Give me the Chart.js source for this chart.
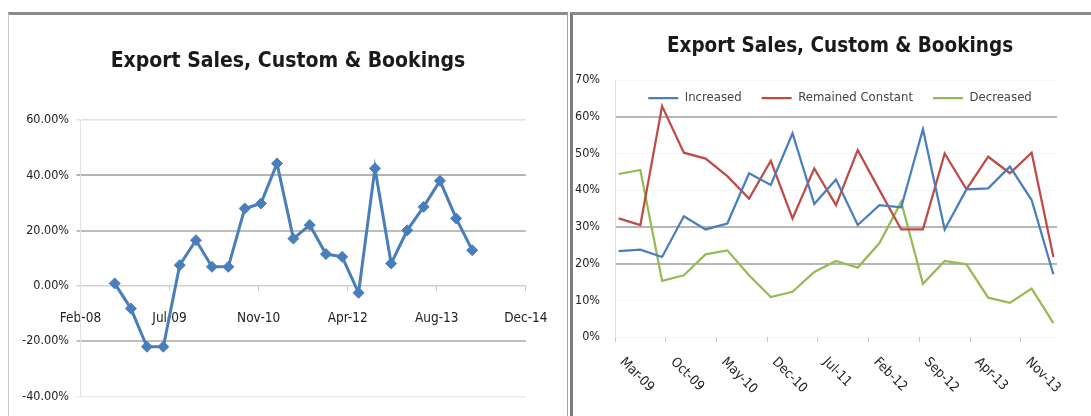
<!DOCTYPE html>
<html>
<head>
<meta charset="utf-8">
<script src="https://cdn.jsdelivr.net/npm/chart.js@4.4.1/dist/chart.umd.min.js"></script>
<style>
  html, body { margin: 0; padding: 0; background: #ffffff; width: 1091px; height: 416px; overflow: hidden; }
  .frame { position: absolute; box-sizing: border-box; }
  #frameL { left: 8px; top: 12px; width: 560px; height: 404px; border-top: 3px solid #8a8a8a; border-left: 1px solid #c8c8c8; border-right: 1px solid #a3a3a3; }
  #frameR { left: 570px; top: 12px; width: 521px; height: 404px; border-top: 3px solid #8a8a8a; border-left: 3px solid #7c7c7c; }
  canvas { position: absolute; }
  #chartL { left: 9px; top: 15px; }
  #chartR { left: 573px; top: 15px; }
</style>
</head>
<body>
<div class="frame" id="frameL"></div>
<div class="frame" id="frameR"></div>
<canvas id="chartL" width="558" height="401"></canvas>
<canvas id="chartR" width="518" height="401"></canvas>
<script>
// ---------- data ----------
const leftQuarters = ['Sep-08','Dec-08','Mar-09','Jun-09','Sep-09','Dec-09','Mar-10','Jun-10','Sep-10','Dec-10',
  'Mar-11','Jun-11','Sep-11','Dec-11','Mar-12','Jun-12','Sep-12','Dec-12','Mar-13','Jun-13','Sep-13','Dec-13','Mar-14'];
const netBalance = [0.9, -8.2, -22.0, -22.0, 7.5, 16.5, 6.9, 6.9, 28.0, 29.8, 44.3, 17.1, 22.0, 11.5, 10.5, -2.5,
  42.5, 8.1, 20.1, 28.6, 38.0, 24.4, 12.9];
const leftTickLabels = ['Feb-08','Jul-09','Nov-10','Apr-12','Aug-13','Dec-14'];

const rightQuarters = ['Mar-09','Jun-09','Sep-09','Dec-09','Mar-10','Jun-10','Sep-10','Dec-10','Mar-11','Jun-11',
  'Sep-11','Dec-11','Mar-12','Jun-12','Sep-12','Dec-12','Mar-13','Jun-13','Sep-13','Dec-13','Mar-14'];
const increased = [23.4, 23.8, 21.8, 32.9, 29.3, 30.9, 44.6, 41.4, 55.5, 36.2, 42.9, 30.5, 35.9, 35.3, 56.6, 29.3,
  40.2, 40.5, 46.4, 37.3, 17.1];
const remainedConstant = [32.3, 30.5, 62.9, 50.2, 48.6, 43.8, 37.7, 48.0, 32.3, 45.9, 35.9, 50.9, 40.0, 29.3, 29.3,
  50.0, 40.2, 49.1, 44.6, 50.2, 21.8];
const decreased = [44.4, 45.5, 15.3, 16.8, 22.5, 23.6, 16.8, 10.9, 12.3, 17.7, 20.7, 18.9, 25.6, 36.8, 14.5, 20.7,
  19.8, 10.7, 9.3, 13.2, 3.8];
const rightTickLabels = ['Mar-09','Oct-09','May-10','Dec-10','Jul-11','Feb-12','Sep-12','Apr-13','Nov-13'];

const chartTitle = 'Export Sales, Custom & Bookings';
const seriesNames = ['Increased', 'Remained Constant', 'Decreased'];

// ---------- helpers ----------
const MONTHS = ['Jan','Feb','Mar','Apr','May','Jun','Jul','Aug','Sep','Oct','Nov','Dec'];
function parseMonYY(s) { const [m, y] = s.split('-'); return { m: MONTHS.indexOf(m), y: 2000 + Number(y) }; }
// Excel-style date serial (days since 1899-12-30)
function excelSerial(s) { const d = parseMonYY(s); return (Date.UTC(d.y, d.m, 1) - Date.UTC(1899, 11, 30)) / 86400000; }
function monthNumber(s) { const d = parseMonYY(s); return d.y * 12 + d.m; }

const FONT = "'DejaVu Sans Condensed','Liberation Sans',sans-serif";
Chart.defaults.font.family = FONT;
Chart.defaults.color = '#222';
Chart.defaults.animation = false;

// ---------- left chart ----------
const LEFT_AXIS_START = 39500, LEFT_AXIS_STEP = 500;
const leftGridColors = { '60': '#e2e2e2', '40': '#b3b3b3', '20': '#bdbdbd', '0': '#d2d2d2', '-20': '#bdbdbd', '-40': '#ececec' };

new Chart(document.getElementById('chartL'), {
  type: 'line',
  data: {
    datasets: [{
      label: 'Net',
      data: leftQuarters.map((q, i) => ({ x: excelSerial(q), y: netBalance[i] })),
      borderColor: '#4A7EBB',
      backgroundColor: '#4A7EBB',
      borderWidth: 3,
      pointStyle: 'rectRot',
      pointRadius: 5.5,
      pointBorderWidth: 1,
      tension: 0
    }]
  },
  options: {
    responsive: false,
    devicePixelRatio: 1,
    layout: { padding: { left: 0, right: 0, top: 0, bottom: 19.5 } },
    plugins: {
      legend: { display: false },
      tooltip: { enabled: false },
      title: {
        display: true, text: chartTitle, color: '#1a1a1a',
        font: { family: FONT, size: 21, weight: 'bold', lineHeight: 1.2 },
        padding: { top: 34.4, bottom: 45.4 }
      }
    },
    scales: {
      x: {
        type: 'linear',
        position: { y: 0 },
        min: LEFT_AXIS_START,
        max: LEFT_AXIS_START + LEFT_AXIS_STEP * (leftTickLabels.length - 1),
        afterFit: s => { s.height = 0; },
        ticks: {
          stepSize: LEFT_AXIS_STEP, autoSkip: false, maxRotation: 0, padding: 19.5,
          font: { size: 13.5 }, color: '#222',
          callback: (v, i) => leftTickLabels[i]
        },
        grid: { drawOnChartArea: false, drawTicks: true, tickLength: 5, color: '#c8c8c8' },
        border: { display: true, color: '#d2d2d2', width: 1 }
      },
      y: {
        min: -40, max: 60,
        afterFit: s => { s.width = 71.5; },
        ticks: { stepSize: 20, padding: 7.5, font: { size: 12.5 }, color: '#222',
          callback: v => v.toFixed(2) + '%' },
        grid: {
          drawTicks: true, tickLength: 4,
          color: c => leftGridColors[String(c.tick.value)] || '#d9d9d9',
          lineWidth: c => (c.tick.value === 40 || c.tick.value === 20 || c.tick.value === -20) ? 2 : 1.5
        },
        border: { display: true, color: '#e2e2e2', width: 1 }
      },
      yPad: {
        type: 'linear', position: 'right', display: true,
        afterFit: s => { s.width = 33.7; },
        ticks: { display: false }, grid: { display: false }, border: { display: false }
      }
    }
  }
});

// ---------- right chart ----------
const rotatedXLabels = {
  id: 'rotatedXLabels',
  afterDraw(chart, args, opts) {
    const sc = chart.scales.x, ctx = chart.ctx;
    ctx.save();
    ctx.font = opts.font;
    ctx.fillStyle = opts.color;
    ctx.textAlign = 'left';
    ctx.textBaseline = 'middle';
    sc.ticks.forEach((t, i) => {
      const px = sc.getPixelForValue(t.value);
      ctx.save();
      ctx.translate(px + opts.dx, sc.top + opts.dy);
      ctx.rotate(Math.PI / 4);
      ctx.fillText(rightTickLabels[i], 0, 0);
      ctx.restore();
    });
    ctx.restore();
  }
};
const legendInPlot = {
  id: 'legendInPlot',
  afterLayout(chart, args, opts) {
    const lg = chart.legend;
    if (!lg) return;
    const h = lg.bottom - lg.top;
    lg.top = opts.centerY - opts.padding - opts.fontSize / 2;
    lg.bottom = lg.top + h;
  }
};

const LEGEND_FONT = 13, LEGEND_PAD = 20;
const rightGridVisible = [60, 30, 20];

new Chart(document.getElementById('chartR'), {
  type: 'line',
  data: {
    datasets: [
      { label: seriesNames[0], data: rightQuarters.map((q, i) => ({ x: monthNumber(q) + 0.5, y: increased[i] })),
        borderColor: '#4A7EBB', backgroundColor: '#4A7EBB' },
      { label: seriesNames[1], data: rightQuarters.map((q, i) => ({ x: monthNumber(q) + 0.5, y: remainedConstant[i] })),
        borderColor: '#BE4B48', backgroundColor: '#BE4B48' },
      { label: seriesNames[2], data: rightQuarters.map((q, i) => ({ x: monthNumber(q) + 0.5, y: decreased[i] })),
        borderColor: '#98B954', backgroundColor: '#98B954' }
    ].map(d => Object.assign(d, { borderWidth: 2.25, pointRadius: 0, tension: 0 }))
  },
  plugins: [rotatedXLabels, legendInPlot],
  options: {
    responsive: false,
    devicePixelRatio: 1,
    layout: { padding: { left: 0, right: -16, top: 0, bottom: 0 } },
    plugins: {
      tooltip: { enabled: false },
      title: {
        display: true, text: chartTitle, color: '#1a1a1a',
        font: { family: FONT, size: 20.5, weight: 'bold', lineHeight: 1.2 },
        padding: { top: 19.7, bottom: 20.7 }
      },
      legend: {
        display: true, position: 'bottom',
        labels: {
          usePointStyle: true, pointStyle: 'line', pointStyleWidth: 30,
          padding: LEGEND_PAD, color: '#444', font: { size: LEGEND_FONT }
        }
      },
      legendInPlot: { centerY: 83, padding: LEGEND_PAD, fontSize: LEGEND_FONT },
      rotatedXLabels: { font: "13.5px 'DejaVu Sans Condensed', 'Liberation Sans', sans-serif", color: '#222', dx: 7, dy: 23 }
    },
    scales: {
      x: {
        type: 'linear',
        min: monthNumber(rightQuarters[0]),
        max: monthNumber(rightQuarters[rightQuarters.length - 1]) + 1,
        afterBuildTicks: s => { s.ticks = rightTickLabels.map(l => ({ value: monthNumber(l) })); },
        afterFit: s => { s.height = 401 - 322 - s.chart.legend.height; },
        ticks: { display: false },
        grid: { drawOnChartArea: false, drawTicks: true, tickLength: 5, color: '#c8c8c8' },
        border: { display: false }
      },
      y: {
        min: 0, max: 70,
        afterFit: s => { s.width = 42; },
        ticks: { stepSize: 10, padding: 15, font: { size: 12.5 }, color: '#222', callback: v => v + '%' },
        grid: {
          drawTicks: false,
          color: c => rightGridVisible.includes(c.tick.value) ? '#b6b6b6' : 'rgba(0,0,0,0.03)',
          lineWidth: c => rightGridVisible.includes(c.tick.value) ? 2 : 1
        },
        border: { display: true, color: '#dedede', width: 1 }
      },
      yPad: {
        type: 'linear', position: 'right', display: true,
        afterFit: s => { s.width = 50; },
        ticks: { display: false }, grid: { display: false }, border: { display: false }
      }
    }
  }
});
</script>
</body>
</html>
